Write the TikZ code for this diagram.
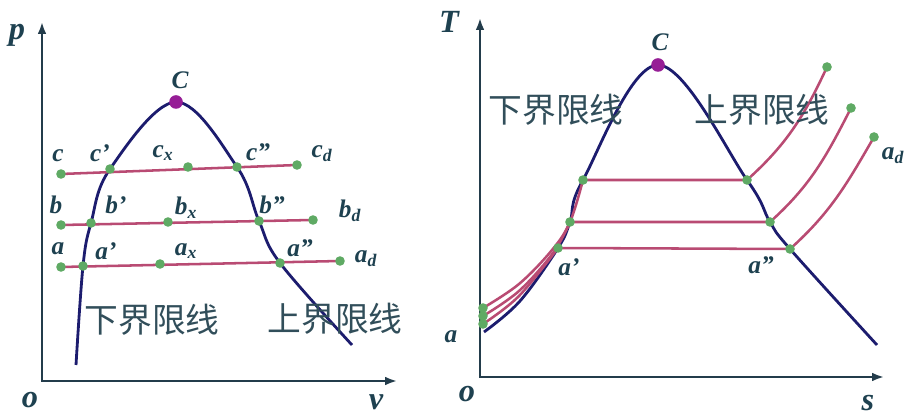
\documentclass[tikz,border=0pt]{standalone}
\usepackage{fontspec}
\setmainfont{Liberation Serif}
\newfontfamily\cjk{Noto Sans CJK SC}
\usetikzlibrary{arrows.meta}
\definecolor{domeblue}{RGB}{28,28,110}
\definecolor{axisgray}{RGB}{35,60,75}
\definecolor{linerose}{RGB}{185,75,115}
\definecolor{dotgreen}{RGB}{95,170,100}
\definecolor{critpurple}{RGB}{150,30,150}
\definecolor{labteal}{RGB}{30,65,80}
\newcommand{\lsub}[2]{#1\textsubscript{#2}}

\begin{document}
\begin{tikzpicture}[
    x=0.025cm,y=0.025cm,
    axisline/.style={draw=axisgray,line width=1.6pt,
      {Latex[length=3mm,width=2.2mm]}-{Latex[length=3mm,width=2.2mm]}},
    dome/.style={draw=domeblue,line width=2pt},
    isobar/.style={draw=linerose,line width=1.8pt},
    dot/.style={circle,fill=dotgreen,inner sep=0pt,minimum size=2.4mm},
    crit/.style={circle,fill=critpurple,inner sep=0pt,minimum size=3.4mm},
    lbl/.style={font=\fontsize{18}{18}\selectfont\bfseries\itshape,text=labteal,inner sep=0pt},
    axlbl/.style={font=\fontsize{23}{23}\selectfont\bfseries\itshape,text=labteal,inner sep=0pt},
    cjklbl/.style={font=\fontsize{24}{24}\selectfont\cjk,text=labteal!80!gray,inner sep=0pt}
  ]
    \useasboundingbox (0,0) rectangle (911,419);

    % p-v diagram
    \coordinate (ptop) at (42,397);
    \coordinate (vend) at (397,38);
    \draw[axisline] (ptop) |- (vend);
    \node[axlbl] (p-lbl) at (17,384) {p};
    \node[axlbl] (o1-lbl) at (30,19) {o};
    \node[axlbl] (v-lbl) at (376,17) {v};

    \coordinate (lb1) at (76,54);
    \coordinate (rb1) at (352,74);
    \coordinate (C1) at (176,317);
    \coordinate (c) at (61,245);
    \coordinate (cp) at (110,250);
    \coordinate (cx) at (188,252);
    \coordinate (cpp) at (237,252);
    \coordinate (cd) at (297,254);
    \coordinate (b) at (61,194);
    \coordinate (bp) at (91,196);
    \coordinate (bx) at (168,197);
    \coordinate (bpp) at (259,198);
    \coordinate (bd) at (313,199);
    \coordinate (a) at (61,152);
    \coordinate (ap) at (83,153);
    \coordinate (ax) at (160,155);
    \coordinate (app) at (280,156);
    \coordinate (ad) at (340,158);

    \draw[dome] plot[smooth,tension=0.6] coordinates
      {(lb1) (ap) (bp) (cp) (C1) (cpp) (bpp) (app) (rb1)};
    \draw[isobar] (c) -- (cd);
    \draw[isobar] (b) -- (bd);
    \draw[isobar] (a) -- (ad);
    \foreach \n in {c,cp,cx,cpp,cd,b,bp,bx,bpp,bd,a,ap,ax,app,ad}
      \node[dot] (\n-dot) at (\n) {};
    \node[crit] (C1-dot) at (C1) {};

    \node[lbl] (C1-lbl) at (180,339) {C};
    \node[lbl] (c-lbl) at (58,263) {c};
    \node[lbl] (cp-lbl) at (100,266) {c’};
    \node[lbl] (cx-lbl) at (163,266) {\lsub{c}{x}};
    \node[lbl] (cpp-lbl) at (258,267) {c”};
    \node[lbl] (cd-lbl) at (322,265) {\lsub{c}{d}};
    \node[lbl] (b-lbl) at (56,214) {b};
    \node[lbl] (bp-lbl) at (116,214) {b’};
    \node[lbl] (bx-lbl) at (186,211) {\lsub{b}{x}};
    \node[lbl] (bpp-lbl) at (272,214) {b”};
    \node[lbl] (bd-lbl) at (350,208) {\lsub{b}{d}};
    \node[lbl] (a-lbl) at (58,170) {a};
    \node[lbl] (ap-lbl) at (106,168) {a’};
    \node[lbl] (ax-lbl) at (186,168) {\lsub{a}{x}};
    \node[lbl] (app-lbl) at (300,171) {a”};
    \node[lbl] (ad-lbl) at (366,160) {\lsub{a}{d}};

    \node[cjklbl] (lower1-lbl) at (152,99) {下界限线};
    \node[cjklbl] (upper1-lbl) at (335,100) {上界限线};

    % T-s diagram
    \coordinate (Ttop) at (480,401);
    \coordinate (send) at (884,42);
    \draw[axisline] (Ttop) |- (send);
    \node[axlbl] (T-lbl) at (449,397) {T};
    \node[axlbl] (o2-lbl) at (467,25) {o};
    \node[axlbl] (s-lbl) at (868,16) {s};

    \coordinate (lb2) at (484,87);
    \coordinate (liq2) at (520,118);
    \coordinate (C2) at (658,354);
    \coordinate (rb2) at (877,74);
    \coordinate (cs) at (483,111);
    \coordinate (bs) at (483,103);
    \coordinate (as) at (483,95);
    \coordinate (cliq) at (519,135);
    \coordinate (cmid) at (552,169);
    \coordinate (bliq) at (519,128);
    \coordinate (bmid) at (553,166);
    \coordinate (aliq) at (519,123);
    \coordinate (cp2) at (583,239);
    \coordinate (bp2) at (570,197);
    \coordinate (ap2) at (558,171);
    \coordinate (cpp2) at (747,239);
    \coordinate (bpp2) at (770,197);
    \coordinate (app2) at (790,170);
    \coordinate (cd2) at (827,352);
    \coordinate (bd2) at (851,311);
    \coordinate (ad2) at (874,282);

    \draw[dome] plot[smooth,tension=0.6] coordinates
      {(lb2) (liq2) (ap2) (bp2) (cp2) (C2) (cpp2) (bpp2) (app2) (rb2)};
    \draw[isobar] plot[smooth,tension=0.6] coordinates {(cs) (cliq) (cmid) (bp2) (cp2)}
      -- (cpp2) to[out=42,in=245] (cd2);
    \draw[isobar] plot[smooth,tension=0.6] coordinates {(bs) (bliq) (bmid) (bp2)}
      -- (bpp2) to[out=42,in=243] (bd2);
    \draw[isobar] plot[smooth,tension=0.6] coordinates {(as) (aliq) (ap2)}
      -- (app2) to[out=42,in=240] (ad2);
    \foreach \n in {cs,bs,as,cp2,bp2,ap2,cpp2,bpp2,app2,cd2,bd2,ad2}
      \node[dot] (\n-dot) at (\n) {};
    \node[crit] (C2-dot) at (C2) {};

    \node[lbl] (C2-lbl) at (660,377) {C};
    \node[lbl] (a2-lbl) at (451,82) {a};
    \node[lbl] (ap2-lbl) at (569,152) {a’};
    \node[lbl] (app2-lbl) at (761,154) {a”};
    \node[lbl] (ad2-lbl) at (893,263) {\lsub{a}{d}};

    \node[cjklbl] (lower2-lbl) at (556,309) {下界限线};
    \node[cjklbl] (upper2-lbl) at (762,309) {上界限线};
  \end{tikzpicture}
\end{document}
